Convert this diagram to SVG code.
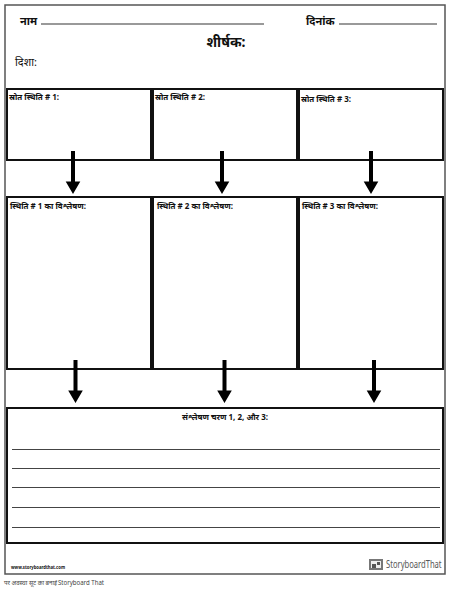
<svg xmlns="http://www.w3.org/2000/svg" width="450" height="590" viewBox="0 0 450 590">
<style>
text{font-family:"Noto Sans","Liberation Sans","DejaVu Sans",sans-serif;fill:#111}
.h{font-size:11px;font-weight:700}
.l{font-size:8px;font-weight:700}
.b{fill:#fff;stroke:#111;stroke-width:2}
.r{stroke:#777;stroke-width:1.5}
.w{stroke:#444;stroke-width:1}
</style>
<defs><path id="a" d="M-2 0H2V30.500H7.300L0 43L-7.300 30.500H-2Z" fill="#000"/></defs>
<rect width="450" height="590" fill="#fff"/>
<rect id="page" x="5" y="5" width="440" height="569" fill="#fff" stroke="#555" stroke-width="1.500"/>
<g id="header">
<text x="20" y="25" class="h">नाम</text><line x1="41" y1="24" x2="264" y2="24" class="r"/>
<text x="306" y="25" class="h">दिनांक</text><line x1="339" y1="24" x2="437" y2="24" class="r"/>
<text x="226" y="47" text-anchor="middle" style="font-size:14px;font-weight:700">शीर्षक:</text>
<text x="15" y="66" style="font-size:11px">दिशा:</text>
</g>
<g id="n1"><rect class="b" x="7" y="89" width="144" height="71"/><text class="l" x="9" y="99.500">स्रोत स्थिति # 1:</text></g>
<g id="n2"><rect class="b" x="153" y="89" width="144" height="71"/><text class="l" x="155" y="99.500">स्रोत स्थिति # 2:</text></g>
<g id="n3"><rect class="b" x="299" y="89" width="144" height="71"/><text class="l" x="301" y="102">स्रोत स्थिति # 3:</text></g>
<g id="n4"><rect class="b" x="7" y="197" width="144" height="172"/><text class="l" x="10" y="208.500">स्थिति # 1 का विश्लेषण:</text></g>
<g id="n5"><rect class="b" x="153" y="197" width="144" height="172"/><text class="l" x="157" y="208.500">स्थिति # 2 का विश्लेषण:</text></g>
<g id="n6"><rect class="b" x="299" y="197" width="144" height="172"/><text class="l" x="302" y="208.500">स्थिति # 3 का विश्लेषण:</text></g>
<g id="n7"><rect class="b" x="7" y="408" width="436" height="135"/><text class="l" x="225" y="419.500" text-anchor="middle">संश्लेषण चरण 1, 2, और 3:</text>
<line class="w" x1="12" y1="449.500" x2="440" y2="449.500"/><line class="w" x1="12" y1="468.500" x2="440" y2="468.500"/><line class="w" x1="12" y1="487.500" x2="440" y2="487.500"/><line class="w" x1="12" y1="507.500" x2="440" y2="507.500"/><line class="w" x1="12" y1="527.500" x2="440" y2="527.500"/></g>
<g id="connectors">
<use href="#a" x="73" y="151"/><use href="#a" x="222" y="151"/><use href="#a" x="371" y="151"/>
<use href="#a" x="75.500" y="360"/><use href="#a" x="224.500" y="360"/><use href="#a" x="374" y="360"/>
</g>
<g id="footer">
<text x="11" y="569" textLength="54" lengthAdjust="spacingAndGlyphs" style="font-size:5px;font-weight:700">www.storyboardthat.com</text>
<rect x="369" y="559" width="14" height="11" fill="#777"/>
<rect x="371" y="561" width="10" height="7" fill="#eee"/>
<rect x="372" y="564" width="4" height="4" fill="#555"/>
<rect x="377" y="562" width="3" height="3" fill="#555"/>
<text transform="translate(386 568) scale(.76 1)" style="font-size:10px;fill:#555">StoryboardThat</text>
<text x="4" y="585" textLength="53" lengthAdjust="spacingAndGlyphs" style="font-size:6px;fill:#444">पर अवस्था सूट का बनाई</text>
<text x="58" y="585" textLength="46" lengthAdjust="spacingAndGlyphs" style="font-size:6.500px;fill:#444">Storyboard That</text>
</g>
</svg>
